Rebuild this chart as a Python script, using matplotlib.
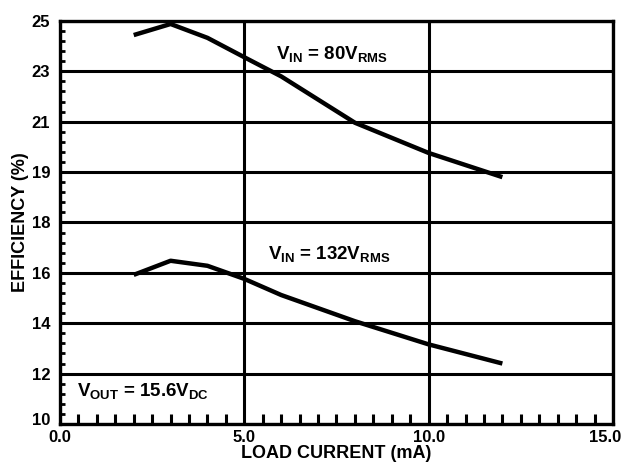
import numpy as np
import matplotlib
matplotlib.use("Agg")
import matplotlib.pyplot as plt
from matplotlib.ticker import FixedLocator, FixedFormatter
from matplotlib.transforms import ScaledTranslation

plt.rcParams['font.family'] = ['Liberation Sans', 'DejaVu Sans']
plt.rcParams['font.weight'] = 'bold'
plt.rcParams['mathtext.fontset'] = 'custom'
plt.rcParams['mathtext.rm'] = 'Liberation Sans:bold'
plt.rcParams['mathtext.bf'] = 'Liberation Sans:bold'
plt.rcParams['mathtext.it'] = 'Liberation Sans:bold'

# Data
load_current = [2, 3, 4, 5, 6, 8, 10, 12]
eff_80v = [24.44, 24.88, 24.33, 23.56, 22.8, 20.96, 19.76, 18.9]
eff_132v = [15.92, 16.48, 16.28, 15.76, 15.12, 14.08, 13.16, 12.4]

# Axis tick labels (non-uniform printed scale of the original datasheet)
y_levels = [10, 12, 14, 16, 18, 19, 21, 23, 25]
x_ticks = [0.0, 5.0, 10.0, 15.0]
x_ticklabels = ['0.0', '5.0', '10.0', '15.0']

label_80 = r'$\mathbf{V_{IN}}$ = 80$\mathbf{V_{RMS}}$'
label_132 = r'$\mathbf{V_{IN}}$ = 132$\mathbf{V_{RMS}}$'
label_out = r'$\mathbf{V_{OUT}}$ = 15.6$\mathbf{V_{DC}}$'

pos = np.arange(len(y_levels), dtype=float)

def fwd(v):
    return np.interp(v, y_levels, pos)

def inv(p):
    return np.interp(p, pos, y_levels)

fig = plt.figure(figsize=(6.23, 4.65), dpi=100)
ax = fig.add_axes([0.0963, 0.0882, 0.8876, 0.8667])
ax.set_yscale('function', functions=(fwd, inv))
ax.set_xlim(0, 15)
ax.set_ylim(10, 25)

ax.plot(load_current, eff_80v, color='black', lw=3.2, solid_capstyle='butt')
ax.plot(load_current, eff_132v, color='black', lw=3.2, solid_capstyle='butt')

ax.yaxis.set_major_locator(FixedLocator(y_levels))
ax.yaxis.set_major_formatter(FixedFormatter([str(v) for v in y_levels]))
ax.yaxis.set_minor_locator(FixedLocator(inv(np.arange(0, 8.001, 0.2))))
ax.xaxis.set_major_locator(FixedLocator(x_ticks))
ax.xaxis.set_major_formatter(FixedFormatter(x_ticklabels))
ax.xaxis.set_minor_locator(FixedLocator(np.arange(0, 15.001, 0.5)))

ax.grid(True, which='major', color='black', lw=2.2)
ax.tick_params(which='major', length=0, labelsize=12)
ax.tick_params(axis='x', which='major', pad=4)
ax.tick_params(axis='y', which='major', pad=7)
ax.tick_params(which='minor', direction='in', length=7, width=2.2, color='black')
ax.tick_params(axis='y', which='minor', length=3.5, width=2)
for s in ax.spines.values():
    s.set_linewidth(2.4)

for lab in ax.get_xticklabels() + ax.get_yticklabels():
    lab.set_fontweight('bold')
# keep the last x label inside the figure
xl = ax.get_xticklabels()
xl[-1].set_transform(xl[-1].get_transform() + ScaledTranslation(-8 / 100, 0, fig.dpi_scale_trans))
# bottom y label sits slightly above the bottom axis line
yl = ax.get_yticklabels()
yl[0].set_transform(yl[0].get_transform() + ScaledTranslation(0, 5 / 100, fig.dpi_scale_trans))

ax.set_xlabel('LOAD CURRENT (mA)', fontsize=13, fontweight='bold', labelpad=0)
ax.set_ylabel('EFFICIENCY (%)', fontsize=13, fontweight='bold', labelpad=2)

ax.text(5.85, 23.5, label_80, fontsize=13.5, va='baseline')
ax.text(5.65, 16.56, label_132, fontsize=13.5, va='baseline')
ax.text(0.45, 11.1, label_out, fontsize=13.5, va='baseline')

fig.savefig('out.png', dpi=100)
